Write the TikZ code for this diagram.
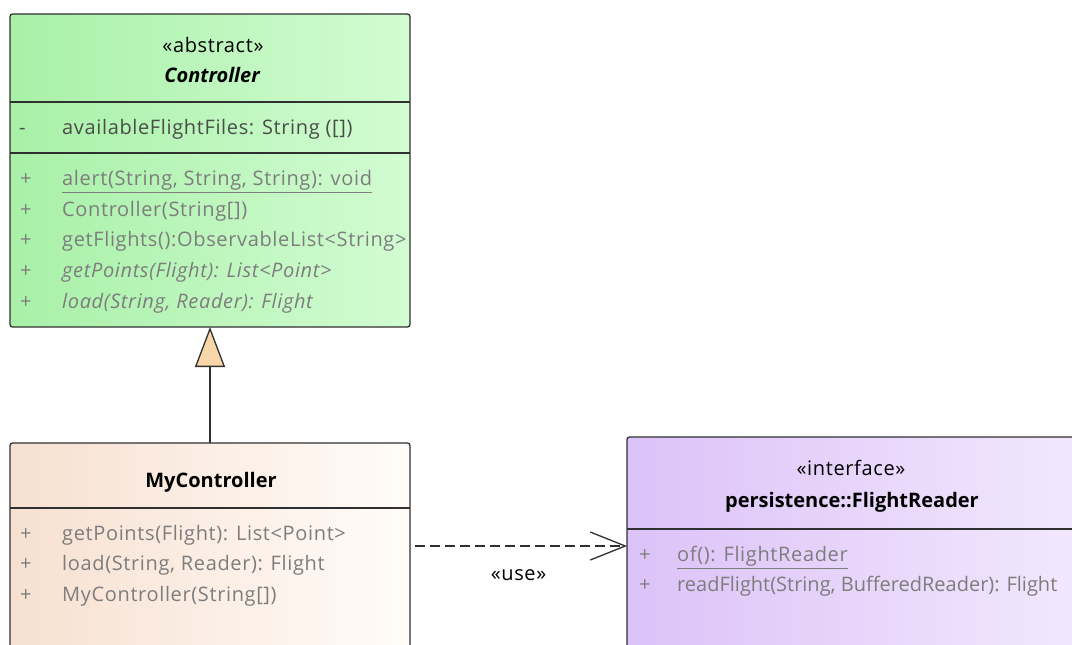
\documentclass[tikz,border=0pt]{standalone}
\usepackage{fontspec}
\setmainfont{Open Sans}
\newfontfamily\spacedfont[LetterSpace=3.2]{Open Sans}
\usetikzlibrary{arrows.meta,backgrounds}

\definecolor{boxline}{RGB}{48,48,48}
\definecolor{membergray}{RGB}{125,125,125}
\definecolor{attrgray}{RGB}{72,78,72}
\definecolor{greenL}{RGB}{168,240,168}
\definecolor{greenR}{RGB}{210,252,210}
\definecolor{peachL}{RGB}{247,224,208}
\definecolor{peachR}{RGB}{255,252,249}
\definecolor{lilacL}{RGB}{220,194,248}
\definecolor{lilacR}{RGB}{242,232,253}
\definecolor{tipfill}{RGB}{247,214,170}

\begin{document}
\begin{tikzpicture}[x=1pt,y=-1pt,
  classbox/.style={draw=boxline, line width=1.3pt, rounded corners=2.5pt,
    anchor=north west, inner sep=0pt, outer sep=0pt},
  boxshadow/.style={fill=black!16, rounded corners=3pt},
  divider/.style={draw=boxline, line width=1.3pt},
  txt/.style={inner sep=0pt, font=\fontsize{20}{24}\spacedfont},
  member/.style={txt, anchor=mid west, text=membergray},
  attr/.style={txt, anchor=mid west, text=attrgray},
  title/.style={txt, anchor=mid, text=black},
  boldtitle/.style={title, font=\fontsize{20}{24}\selectfont\bfseries},
  connector/.style={draw=boxline, line width=1.3pt},
]
\useasboundingbox (0,0) rectangle (1072,645);
\clip (0,0) rectangle (1072,645);
\fill[white] (0,0) rectangle (1072,645);

% ---------- class boxes ----------
\node[classbox, left color=greenL, right color=greenR,
  minimum width=400pt, minimum height=313pt] (ctrl) at (10,14) {};
\node[classbox, left color=peachL, right color=peachR,
  minimum width=400pt, minimum height=230pt] (myctrl) at (10,443) {};
\node[classbox, left color=lilacL, right color=lilacR,
  minimum width=450pt, minimum height=230pt] (frd) at (627,437) {};

\begin{scope}[on background layer]
  \foreach \b in {ctrl,myctrl,frd}
    \fill[boxshadow] ([shift={(3,3)}]\b.north west) rectangle ([shift={(3,3)}]\b.south east);
\end{scope}

% ---------- Controller ----------
\node[title] (ctrlst) at (213,50) {«abstract»};
\node[boldtitle, font=\fontsize{20}{24}\selectfont\bfseries\itshape] (ctrlname) at (212,80) {Controller};
\draw[divider] (ctrl.west |- 0,102) -- (ctrl.east |- 0,102);
\node[attr] (a1v) at (19,132) {-};
\node[attr] (a1) at (62,132) {availableFlightFiles: String ([])};
\draw[divider] (ctrl.west |- 0,153) -- (ctrl.east |- 0,153);
\node[member] (m1v) at (20,183) {+};
\node[member] (m1) at (62,183) {\underline{alert(String, String, String): void}};
\node[member] (m2v) at (20,214) {+};
\node[member] (m2) at (62,214) {Controller(String[])};
\node[member] (m3v) at (20,244) {+};
\node[member] (m3) at (62,244) {getFlights():ObservableList<String>};
\node[member] (m4v) at (20,275) {+};
\node[member, font=\fontsize{20}{24}\spacedfont\itshape] (m4) at (62,275) {getPoints(Flight): List<Point>};
\node[member] (m5v) at (20,306) {+};
\node[member, font=\fontsize{20}{24}\spacedfont\itshape] (m5) at (62,306) {load(String, Reader): Flight};

% ---------- MyController ----------
\node[boldtitle] (myname) at (211,485) {MyController};
\draw[divider] (myctrl.west |- 0,508) -- (myctrl.east |- 0,508);
\node[member] (n1v) at (20,538) {+};
\node[member] (n1) at (62,538) {getPoints(Flight): List<Point>};
\node[member] (n2v) at (20,568) {+};
\node[member] (n2) at (62,568) {load(String, Reader): Flight};
\node[member] (n3v) at (20,599) {+};
\node[member] (n3) at (62,599) {MyController(String[])};

% ---------- FlightReader ----------
\node[title] (frdst) at (851,473) {«interface»};
\node[boldtitle] (frdname) at (852,505) {persistence::FlightReader};
\draw[divider] (frd.west |- 0,529) -- (frd.east |- 0,529);
\node[member] (f1v) at (639,559) {+};
\node[member] (f1) at (677,559) {\underline{of(): FlightReader}};
\node[member] (f2v) at (639,589) {+};
\node[member, font=\fontsize{20}{24}\selectfont] (f2) at (677,589) {readFlight(String, BufferedReader): Flight};

% ---------- connectors ----------
\draw[connector, -{Triangle[length=40pt, width=30pt, fill=tipfill]}]
  (myctrl.north) -- (ctrl.south);
\draw[connector, dash pattern=on 10pt off 5pt, shorten <=5pt,
  -{Straight Barb[length=35pt, width=28pt]}]
  (myctrl.east |- 0,546) -- node[txt, text=black, yshift=-29pt] (use) {«use»}
  (frd.west |- 0,546);
\end{tikzpicture}
\end{document}
